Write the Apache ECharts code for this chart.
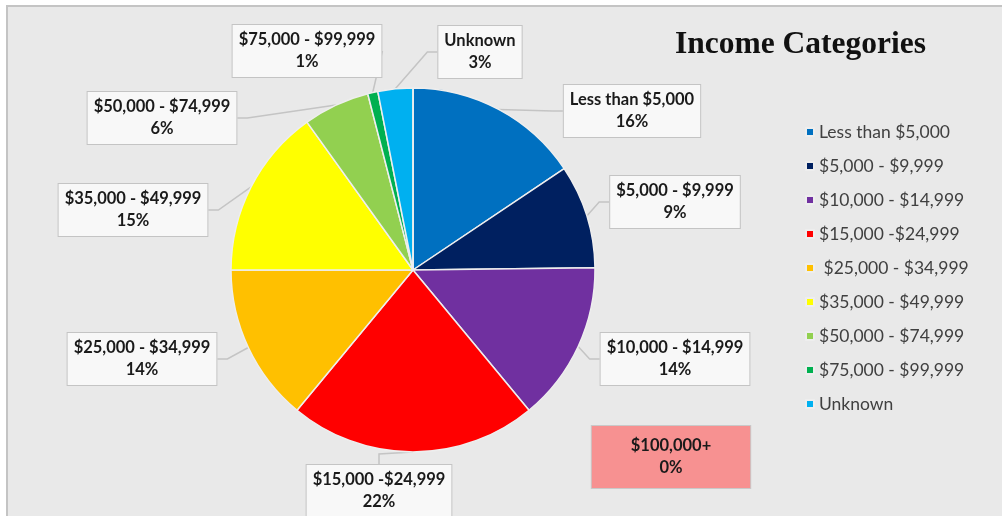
<!DOCTYPE html>
<html>
<head>
<meta charset="utf-8">
<script src="https://cdn.jsdelivr.net/npm/echarts@6/dist/echarts.min.js"></script>
<style>
  html, body { margin: 0; padding: 0; background: #fff; }
  #chart { width: 1002px; height: 516px; }
</style>
</head>
<body>
<div id="chart"></div>
<script>
// income brackets, share of households (%)
const categories = [
  'Less than $5,000', '$5,000 - $9,999', '$10,000 - $14,999', '$15,000 -$24,999',
  '$25,000 - $34,999', '$35,000 - $49,999', '$50,000 - $74,999', '$75,000 - $99,999',
  'Unknown', '$100,000+'
]
const values = [15.6, 9.2, 14.2, 22.0, 14.0, 15.1, 5.9, 0.9, 3.1, 0]
const colors = ['#0070c0', '#002060', '#7030a0', '#ff0000', '#ffc000', '#ffff00', '#92d050', '#00b050', '#00b0f0', '#f79191']

// where each callout box sits (centre of box)
const labelPos = [
  [632, 111], [675, 202], [675, 359], [379, 491], [142, 359],
  [133, 210], [162, 118], [307, 51], [480, 52], [671, 457]
]

const myChart = echarts.init(document.getElementById('chart'))

const pieData = categories.map((name, i) => {
  const item = { name: name, value: values[i], itemStyle: { color: colors[i] } }
  if (name === '$100,000+') {
    item.label = { backgroundColor: '#f79191', borderColor: '#c9c9c9', padding: [9, 39] }
    item.labelLine = { show: false }
  }
  return item
})

const option = {
  backgroundColor: '#ffffff',
  graphic: [
    {
      type: 'rect',
      z: -10,
      shape: { x: 7, y: 6, width: 1000, height: 520 },
      style: { fill: '#e9e9e9', stroke: '#c4c4c4', lineWidth: 2 }
    }
  ],
  title: {
    text: 'Income Categories',
    left: 670,
    top: 24,
    textStyle: { fontFamily: 'Liberation Serif', fontWeight: 'bold', fontSize: 31.5, color: '#111' }
  },
  legend: {
    orient: 'vertical',
    left: 800,
    top: 118,
    itemWidth: 8,
    itemHeight: 8,
    itemGap: 16,
    icon: 'rect',
    data: categories.slice(0, 9),
    formatter: name => (name === '$25,000 - $34,999' ? ' ' + name : name),
    textStyle: { fontFamily: 'Lato', fontSize: 17.5, color: '#404040', lineHeight: 18 }
  },
  series: [
    {
      type: 'pie',
      center: [413, 270],
      radius: 182,
      startAngle: 90,
      clockwise: true,
      percentPrecision: 0,
      avoidLabelOverlap: false,
      itemStyle: { borderColor: '#eeeeee', borderWidth: 1.5 },
      label: {
        show: true,
        position: 'outside',
        formatter: '{b}\n{d}%',
        fontFamily: 'Lato',
        fontWeight: 'bold',
        fontSize: 16.5,
        lineHeight: 22,
        color: '#1a1a1a',
        align: 'center',
        backgroundColor: '#f8f8f8',
        borderColor: '#c4c4c4',
        borderWidth: 1,
        padding: [4, 6]
      },
      labelLine: {
        show: true,
        length: 10,
        length2: 10,
        lineStyle: { color: '#c4c4c4', width: 1.5 }
      },
      labelLayout: params => {
        const p = labelPos[params.dataIndex]
        return { x: p[0], y: p[1], align: 'center', verticalAlign: 'middle' }
      },
      emphasis: { disabled: true },
      animation: false,
      data: pieData
    }
  ]
}

myChart.setOption(option)
</script>
</body>
</html>
